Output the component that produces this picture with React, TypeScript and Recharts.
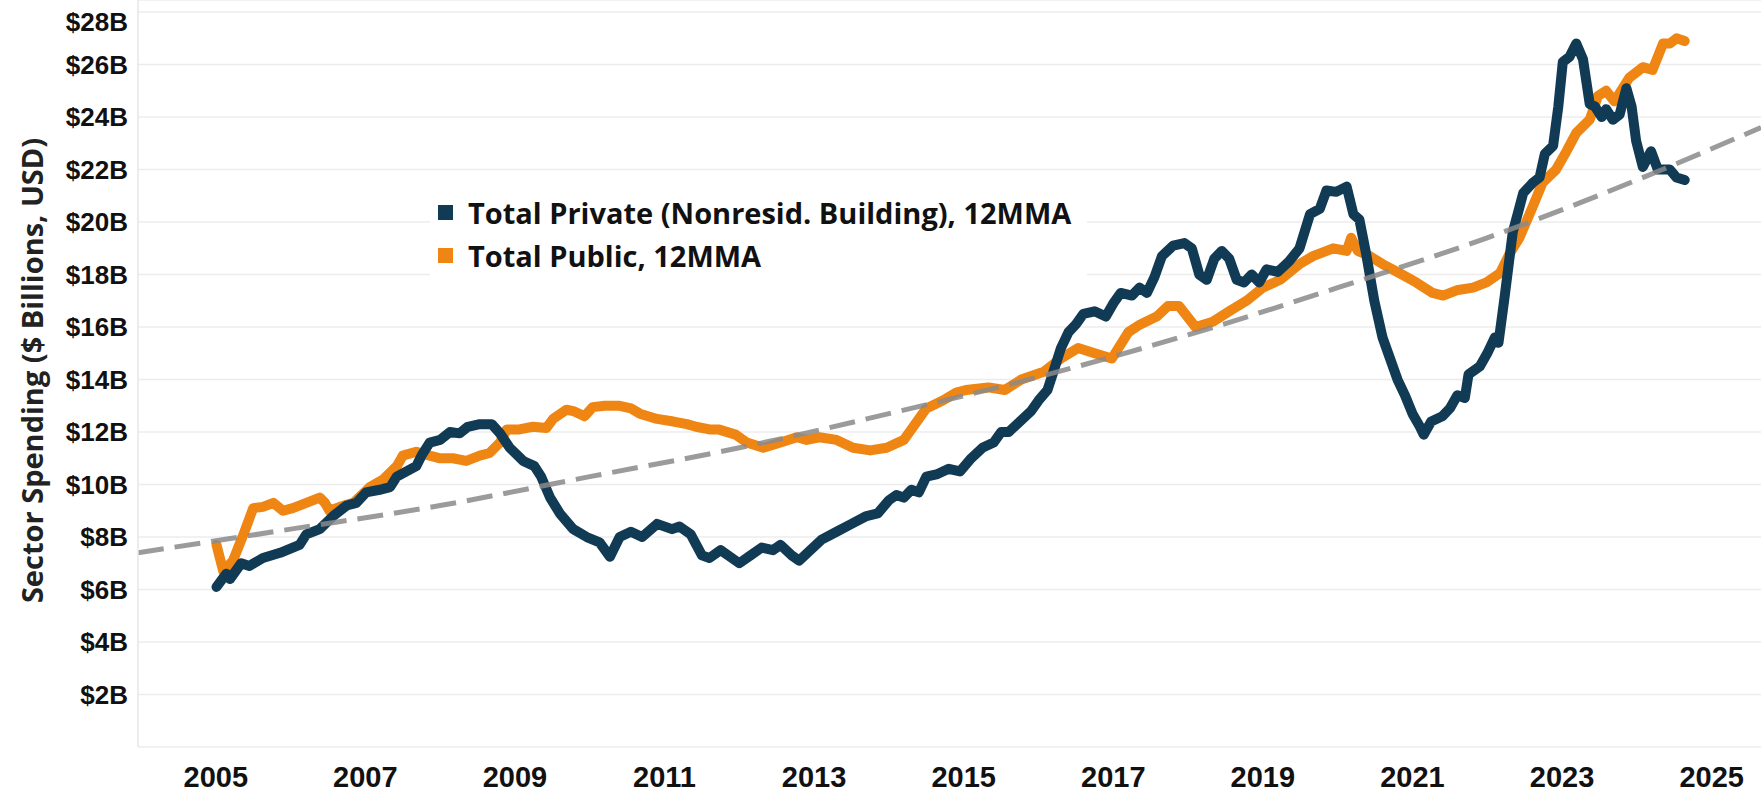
import React from "react";
import { LineChart, Line, XAxis, YAxis, CartesianGrid } from "recharts";

// decimal years, values in $ billions (12-month moving average)
const privateYears = [
  2005.01, 2005.14, 2005.19, 2005.34, 2005.45, 2005.63, 2005.86, 2006.03, 2006.12, 2006.21,
  2006.39, 2006.57, 2006.75, 2006.88, 2007.01, 2007.19, 2007.33, 2007.42, 2007.55, 2007.68,
  2007.75, 2007.86, 2008.0, 2008.13, 2008.26, 2008.37, 2008.53, 2008.69, 2008.8, 2008.93,
  2009.11, 2009.26, 2009.35, 2009.47, 2009.6, 2009.78, 2009.96, 2010.13, 2010.27, 2010.4,
  2010.55, 2010.7, 2010.9, 2011.1, 2011.2, 2011.35, 2011.5, 2011.6, 2011.75, 2011.9,
  2012.0, 2012.15, 2012.3, 2012.45, 2012.55, 2012.7, 2012.8, 2012.95, 2013.1, 2013.3,
  2013.5, 2013.7, 2013.85, 2014.0, 2014.1, 2014.2, 2014.3, 2014.4, 2014.5, 2014.65,
  2014.8, 2014.95, 2015.1, 2015.25, 2015.4, 2015.5, 2015.6, 2015.75, 2015.9, 2016.0,
  2016.12, 2016.2, 2016.3, 2016.4, 2016.5, 2016.6, 2016.75, 2016.9, 2017.0, 2017.1,
  2017.25, 2017.35, 2017.45, 2017.55, 2017.65, 2017.8, 2017.95, 2018.05, 2018.15, 2018.25,
  2018.35, 2018.45, 2018.55, 2018.65, 2018.75, 2018.85, 2018.95, 2019.05, 2019.2, 2019.35,
  2019.49, 2019.63, 2019.76, 2019.85, 2019.98, 2020.12, 2020.21, 2020.29, 2020.38, 2020.49,
  2020.6, 2020.7, 2020.8, 2020.9, 2021.0, 2021.1, 2021.15, 2021.25, 2021.4, 2021.5,
  2021.6, 2021.7, 2021.75, 2021.9, 2022.0, 2022.1, 2022.15, 2022.23, 2022.34, 2022.48,
  2022.61, 2022.7, 2022.77, 2022.88, 2022.95, 2023.01, 2023.1, 2023.19, 2023.28, 2023.37,
  2023.44, 2023.53, 2023.59, 2023.68, 2023.77, 2023.86, 2023.93, 2023.99, 2024.08, 2024.19,
  2024.28, 2024.44, 2024.53, 2024.64,
];
const privateValues = [
  6.1, 6.6, 6.4, 7.0, 6.9, 7.2, 7.4, 7.6, 7.7, 8.1,
  8.3, 8.8, 9.2, 9.3, 9.7, 9.8, 9.9, 10.3, 10.5, 10.7,
  11.1, 11.6, 11.7, 12.0, 11.95, 12.2, 12.3, 12.3, 11.95, 11.4,
  10.9, 10.7, 10.3, 9.5, 8.9, 8.3, 8.0, 7.8, 7.25, 8.0,
  8.2, 8.0, 8.5, 8.3, 8.4, 8.1, 7.3, 7.2, 7.5, 7.2,
  7.0, 7.3, 7.6, 7.5, 7.7, 7.3, 7.1, 7.5, 7.9, 8.2,
  8.5, 8.8, 8.9, 9.4, 9.6, 9.5, 9.8, 9.7, 10.3, 10.4,
  10.6, 10.5, 11.0, 11.4, 11.6, 12.0, 12.0, 12.4, 12.8, 13.2,
  13.6, 14.3, 15.2, 15.8, 16.1, 16.5, 16.6, 16.4, 16.9, 17.3,
  17.2, 17.5, 17.3, 17.9, 18.7, 19.1, 19.2, 19.0, 18.0, 17.8,
  18.6, 18.9, 18.6, 17.8, 17.7, 18.0, 17.7, 18.2, 18.1, 18.5,
  19.0, 20.3, 20.5, 21.2, 21.15, 21.35, 20.3, 20.1, 18.8, 17.0,
  15.6, 14.8, 14.0, 13.4, 12.7, 12.2, 11.9, 12.4, 12.6, 12.9,
  13.4, 13.3, 14.2, 14.5, 15.0, 15.6, 15.4, 17.1, 19.6, 21.1,
  21.5, 21.7, 22.6, 22.9, 24.4, 26.1, 26.3, 26.8, 26.2, 24.5,
  24.4, 24.0, 24.3, 23.9, 24.1, 25.1, 24.4, 23.1, 22.1, 22.7,
  22.0, 22.0, 21.7, 21.6,
];

const publicYears = [
  2005.01, 2005.1, 2005.23, 2005.37, 2005.5, 2005.63, 2005.77, 2005.9, 2006.03, 2006.21,
  2006.39, 2006.46, 2006.52, 2006.66, 2006.84, 2007.06, 2007.24, 2007.42, 2007.5, 2007.68,
  2007.86, 2008.0, 2008.17, 2008.35, 2008.53, 2008.66, 2008.8, 2008.89, 2009.06, 2009.24,
  2009.42, 2009.51, 2009.69, 2009.78, 2009.93, 2010.04, 2010.2, 2010.4, 2010.55, 2010.67,
  2010.9, 2011.12, 2011.3, 2011.42, 2011.6, 2011.72, 2011.95, 2012.1, 2012.32, 2012.55,
  2012.77, 2012.9, 2013.07, 2013.3, 2013.52, 2013.75, 2013.97, 2014.2, 2014.35, 2014.5,
  2014.72, 2014.9, 2015.03, 2015.33, 2015.55, 2015.77, 2016.07, 2016.3, 2016.53, 2016.75,
  2016.98, 2017.2, 2017.36, 2017.58, 2017.73, 2017.88, 2018.1, 2018.33, 2018.55, 2018.78,
  2019.0, 2019.23, 2019.49, 2019.67, 2019.94, 2020.12, 2020.18, 2020.27, 2020.43, 2020.6,
  2020.83, 2021.05, 2021.27, 2021.41, 2021.59, 2021.81, 2021.99, 2022.17, 2022.3, 2022.43,
  2022.61, 2022.74, 2022.92, 2023.06, 2023.19, 2023.37, 2023.48, 2023.59, 2023.7, 2023.9,
  2024.08, 2024.21, 2024.35, 2024.44, 2024.53, 2024.64,
];
const publicValues = [
  7.7, 6.7, 7.1, 8.1, 9.1, 9.15, 9.3, 9.0, 9.1, 9.3,
  9.5, 9.3, 9.0, 9.15, 9.3, 9.9, 10.2, 10.7, 11.1, 11.25,
  11.1, 11.0, 11.0, 10.9, 11.1, 11.2, 11.6, 12.1, 12.1, 12.2,
  12.15, 12.5, 12.85, 12.8, 12.6, 12.95, 13.0, 13.0, 12.9, 12.7,
  12.5, 12.4, 12.3, 12.2, 12.1, 12.1, 11.9, 11.6, 11.4, 11.6,
  11.8, 11.7, 11.8, 11.7, 11.4, 11.3, 11.4, 11.7, 12.3, 12.9,
  13.2, 13.5, 13.6, 13.7, 13.6, 14.0, 14.3, 14.8, 15.2, 15.0,
  14.8, 15.8, 16.1, 16.4, 16.8, 16.8, 16.0, 16.2, 16.6, 17.0,
  17.5, 17.8, 18.4, 18.7, 19.0, 18.9, 19.4, 18.9, 18.7, 18.4,
  18.05, 17.7, 17.3, 17.2, 17.4, 17.5, 17.7, 18.05, 18.8, 19.4,
  20.6, 21.5, 22.0, 22.7, 23.4, 23.9, 24.8, 25.0, 24.6, 25.5,
  25.9, 25.8, 26.8, 26.8, 27.0, 26.9,
];

// dashed trend line
const trendYears = [2003.96, 2006, 2008, 2010, 2012, 2014, 2016, 2018, 2020, 2022, 2024, 2025.66];
const trendValues = [7.4, 8.3, 9.2, 10.3, 11.4, 12.7, 14.1, 15.7, 17.5, 19.4, 21.6, 23.6];

const yearTicks = [2005, 2007, 2009, 2011, 2013, 2015, 2017, 2019, 2021, 2023, 2025];
const valueTicks = [0, 2, 4, 6, 8, 10, 12, 14, 16, 18, 20, 22, 24, 26, 28];

const NAVY = "#113a55";
const ORANGE = "#ef8614";
const FONT = "'Liberation Sans', Arial, sans-serif";
const TITLE_FONT = "'Open Sans', 'Liberation Sans', sans-serif";

const zip = (ts: number[], vs: number[]) => ts.map((t, i) => ({ t, v: vs[i] }));

const privateData = zip(privateYears, privateValues);
const publicData = zip(publicYears, publicValues);
const trendData = zip(trendYears, trendValues);

function YTick({ x, y, payload }: any) {
  if (payload.value === 0) return null;
  // top label sits under its gridline, as in the original
  const dy = payload.value === 28 ? 10 : 0;
  return (
    <text x={x} y={y + dy} textAnchor="end" dominantBaseline="central" fontSize={26} fontWeight={700} fill="#111" fontFamily={FONT}>
      {`$${payload.value}B`}
    </text>
  );
}

function XTick({ x, y, payload }: any) {
  return (
    <text x={x} y={y + 22} textAnchor="middle" dominantBaseline="central" fontSize={29} fontWeight={700} fill="#111" fontFamily={FONT}>
      {payload.value}
    </text>
  );
}

function AxisTitle({ viewBox }: any) {
  const cx = viewBox.x + 31;
  const cy = viewBox.y + viewBox.height / 2 - 3;
  return (
    <text x={cx} y={cy} transform={`rotate(-90 ${cx} ${cy})`} textAnchor="middle" dominantBaseline="central" fontSize={29} fontWeight={700} fill="#222" fontFamily={TITLE_FONT}>
      Sector Spending ($ Billions, USD)
    </text>
  );
}

function LegendBox() {
  const row = (color: string, label: string) => (
    <div style={{ display: "flex", alignItems: "center", height: 43 }}>
      <span style={{ width: 15, height: 15, background: color, marginRight: 15, flex: "none" }} />
      <span>{label}</span>
    </div>
  );
  return (
    <div
      style={{
        position: "absolute",
        left: 430,
        top: 191,
        padding: "0 16px 0 8px",
        background: "#fff",
        fontFamily: TITLE_FONT,
        fontWeight: 700,
        fontSize: 29,
        color: "#111",
        whiteSpace: "nowrap",
      }}
    >
      {row(NAVY, "Total Private (Nonresid. Building), 12MMA")}
      {row(ORANGE, "Total Public, 12MMA")}
    </div>
  );
}

export default function App() {
  return (
    <div style={{ position: "absolute", left: 0, top: 0, width: 1761, height: 793, background: "#fff" }}>
      <LineChart width={1761} height={793} margin={{ top: 0, right: 0, bottom: 0, left: 0 }}>
        <CartesianGrid vertical={false} stroke="#ececec" strokeWidth={1.5} />
        <XAxis
          dataKey="t"
          type="number"
          domain={[2003.96, 2025.66]}
          allowDataOverflow
          ticks={yearTicks}
          interval={0}
          height={46}
          axisLine={false}
          tickLine={false}
          tick={<XTick />}
        />
        <YAxis
          type="number"
          domain={[0, 28.46]}
          allowDataOverflow
          ticks={valueTicks}
          interval={0}
          width={138}
          tickMargin={4}
          tickLine={false}
          axisLine={{ stroke: "#e6e6e6", strokeWidth: 1.5 }}
          tick={<YTick />}
          label={<AxisTitle />}
        />
        <Line
          data={publicData}
          dataKey="v"
          type="linear"
          stroke={ORANGE}
          strokeWidth={10}
          strokeLinejoin="round"
          strokeLinecap="round"
          dot={false}
          isAnimationActive={false}
        />
        <Line
          data={privateData}
          dataKey="v"
          type="linear"
          stroke={NAVY}
          strokeWidth={10}
          strokeLinejoin="round"
          strokeLinecap="round"
          dot={false}
          isAnimationActive={false}
        />
        <Line
          data={trendData}
          dataKey="v"
          type="monotone"
          stroke="#8a8a8a"
          strokeOpacity={0.85}
          strokeWidth={5}
          strokeDasharray="26 11"
          dot={false}
          isAnimationActive={false}
        />
      </LineChart>
      <LegendBox />
    </div>
  );
}
